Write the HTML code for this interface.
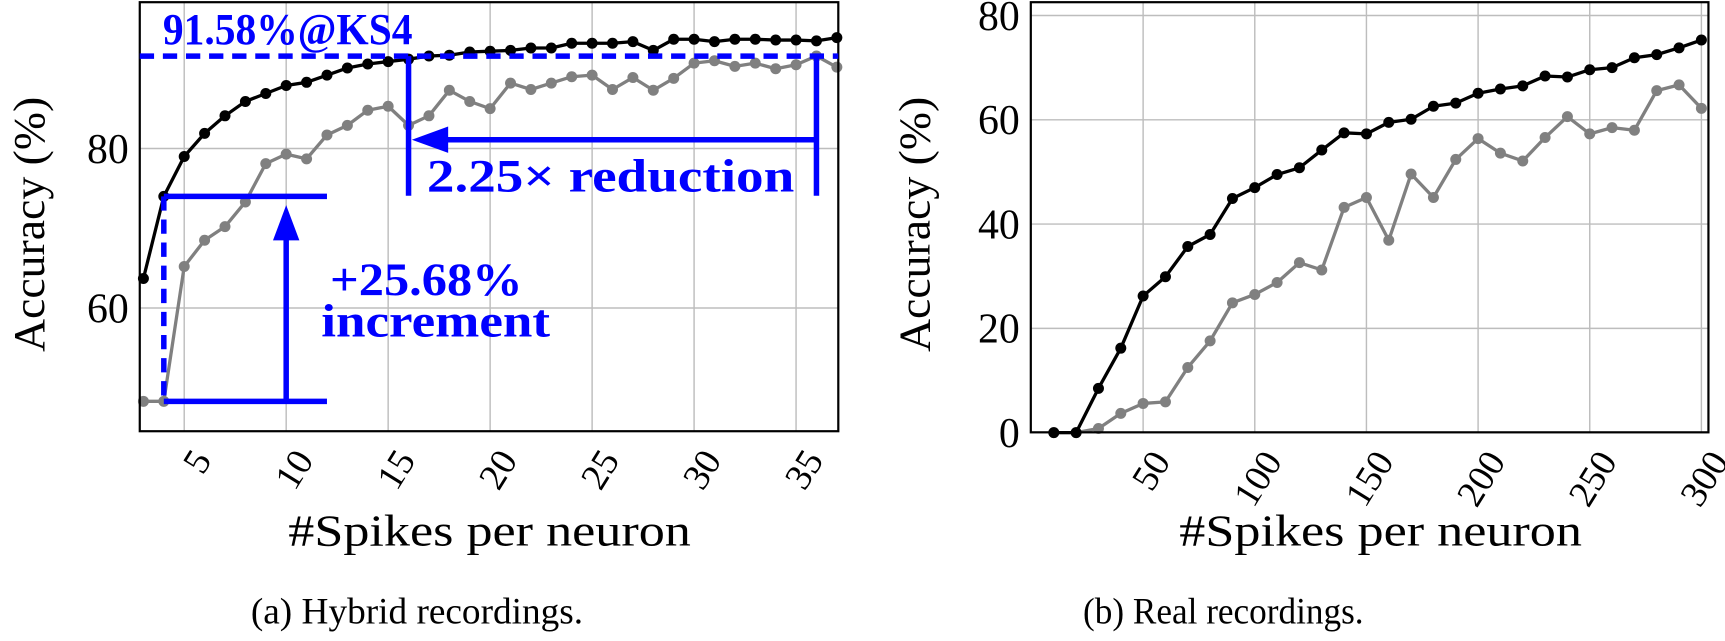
<!DOCTYPE html>
<html><head><meta charset="utf-8"><style>
html,body{margin:0;padding:0;background:#fff;}
svg{display:block;font-family:"Liberation Serif",serif;}
</style></head><body>
<svg id="chart" width="1725" height="641" viewBox="0 0 1568 582.7" xmlns="http://www.w3.org/2000/svg"></svg>
<script>
const hybridX = [3,4,5,6,7,8,9,10,11,12,13,14,15,16,17,18,19,20,21,22,23,24,25,26,27,28,29,30,31,32,33,34,35,36,37];
const hybridProposed = [63.7,74.0,79.0,81.9,84.1,85.9,86.9,87.9,88.3,89.2,90.1,90.6,90.9,91.2,91.6,91.7,92.1,92.2,92.3,92.6,92.6,93.2,93.2,93.2,93.4,92.3,93.7,93.7,93.4,93.7,93.7,93.6,93.6,93.5,93.9];
const hybridBaseline = [48.3,48.3,65.2,68.5,70.2,73.3,78.1,79.3,78.7,81.7,82.9,84.8,85.3,82.9,84.1,87.3,85.9,85.0,88.2,87.4,88.2,89.0,89.2,87.4,88.9,87.3,88.8,90.7,91.0,90.3,90.7,90.0,90.5,91.6,90.2];
const hybridXTicks = [5,10,15,20,25,30,35];
const hybridYTicks = [60,80];
const realX = [10,20,30,40,50,60,70,80,90,100,110,120,130,140,150,160,170,180,190,200,210,220,230,240,250,260,270,280,290,300];
const realProposed = [0,0,8.5,16.2,26.2,29.9,35.7,38.0,44.9,47.0,49.5,50.8,54.2,57.5,57.3,59.5,60.1,62.6,63.2,65.1,65.9,66.5,68.4,68.2,69.6,70.0,71.9,72.5,73.8,75.3];
const realBaseline = [0,0,0.8,3.7,5.6,5.9,12.5,17.6,24.9,26.5,28.8,32.6,31.2,43.2,45.1,36.9,49.6,45.1,52.4,56.4,53.6,52.1,56.6,60.6,57.3,58.5,58.0,65.6,66.7,62.2];
const realXTicks = [50,100,150,200,250,300];
const realYTicks = [0,20,40,60,80];

const NS="http://www.w3.org/2000/svg";
const svg=document.getElementById('chart');
function mk(tag,attrs,parent){const e=document.createElementNS(NS,tag);for(const k in attrs)e.setAttribute(k,attrs[k]);(parent||svg).appendChild(e);return e;}

function panel(cfg){
  const g=mk('g',{});
  
  
  const {L,R,T,B,sx,sy}=cfg;
  cfg.xt.forEach(t=>{const x=sx(t);const l=mk('line',{x1:x,x2:x,y1:T,y2:B,stroke:'#bdbdbd','stroke-width':1.3},g);
    });
  cfg.yt.forEach(t=>{const y=sy(t);const l=mk('line',{x1:L,x2:R,y1:y,y2:y,stroke:'#bdbdbd','stroke-width':1.3},g);
    });
  cfg.xt.forEach(t=>{const x=sx(t);const tx=mk('text',{x:0,y:0,'font-size':34,'text-anchor':'end',transform:`translate(${x+6},${B+14}) rotate(-58)`,'dominant-baseline':'hanging',fill:'#000'},g);
    tx.textContent=t;});
  cfg.yt.forEach(t=>{const y=sy(t);const tx=mk('text',{x:L-10,y:y+13,'font-size':38,'text-anchor':'end',fill:'#000'},g);
    tx.textContent=t;});
  return g;
}
function series(g,xs,ys,sx,sy,color,name){
  const pts=xs.map((x,i)=>sx(x)+','+sy(ys[i])).join(' ');
  const pl=mk('polyline',{points:pts,fill:'none',stroke:color,'stroke-width':3,'stroke-linejoin':'round'},g);
  
  xs.forEach((x,i)=>{const c=mk('circle',{cx:sx(x),cy:sy(ys[i]),r:5,fill:color},g);
    });
}
function frame(g,L,R,T,B){const r=mk('rect',{x:L,y:T,width:R-L,height:B-T,fill:'none',stroke:'#000','stroke-width':2},g);
  }

const aL=127,aR=762,aT=2,aB=392;
const ax=x=>167.4+(x-5)*18.54, ay=v=>135-(v-80)*7.25;
const ga=panel({name:'hybrid-chart',L:aL,R:aR,T:aT,B:aB,sx:ax,sy:ay,xt:hybridXTicks,yt:hybridYTicks});
const clipA=mk('clipPath',{id:'ca'});mk('rect',{x:aL-8,y:aT-8,width:aR-aL+16,height:aB-aT+16},clipA);
const sa=mk('g',{'clip-path':'url(#ca)'},ga);
series(sa,hybridX,hybridBaseline,ax,ay,'#808080','hybrid-baseline');
series(sa,hybridX,hybridProposed,ax,ay,'#000','hybrid-proposed');
frame(ga,aL,aR,aT,aB);
const blue='#0000ff';
function ln(x1,y1,x2,y2,name,extra){const l=mk('line',Object.assign({x1,y1,x2,y2,stroke:blue,'stroke-width':5},extra||{}),ga);
  return l;}
ln(aL,ay(91.58),aR,ay(91.58),'target-dashed-line',{'stroke-dasharray':'13 8'});
ln(ax(4),ay(74),ax(4),ay(48.3),'increment-dashed-line',{'stroke-dasharray':'13 8'});
ln(ax(4),ay(74),ax(12),ay(74),'increment-top-line');
ln(ax(4),ay(48.3),ax(12),ay(48.3),'increment-bottom-line');
ln(ax(10),ay(48.3),ax(10),ay(74)+30,'increment-arrow-shaft');
const ah1=mk('polygon',{points:`${ax(10)},${ay(74)+8} ${ax(10)-12},${ay(74)+40} ${ax(10)+12},${ay(74)+40}`,fill:blue},ga);

ln(ax(16),ay(91.58),ax(16),178,'reduction-left-line');
ln(ax(36),ay(91.58),ax(36),178,'reduction-right-line');
ln(ax(36),127,ax(16)+30,127,'reduction-arrow-shaft');
const ah2=mk('polygon',{points:`${ax(16)+3},127 ${ax(16)+36},115 ${ax(16)+36},139`,fill:blue},ga);

function tt(x,y,s,str,name,w){const t=mk('text',{x,y,'font-size':s,'font-weight':'bold',fill:blue,textLength:w,lengthAdjust:'spacingAndGlyphs'},ga);
  t.textContent=str;}
tt(148,40,40,'91.58%@KS4','target-accuracy-label',227);
tt(388,174,42,'2.25× reduction','reduction-label',334);
tt(300,268,42,'+25.68%','increment-value-label',175);
tt(292,306,42,'increment','increment-label',208);
function lab(x,y,s,str,name,w,rot){const t=mk('text',{x,y,'font-size':s,fill:'#000','text-anchor':'middle',textLength:w,lengthAdjust:'spacingAndGlyphs'},svg);
  if(rot)t.setAttribute('transform',`rotate(-90 ${x} ${y})`);t.textContent=str;}
lab(40,204,40,'Accuracy (%)','hybrid-y-axis-title',232,true);
lab(445,496,40,'#Spikes per neuron','hybrid-x-axis-title',366);
lab(379,567,34,'(a) Hybrid recordings.','hybrid-caption',302);

const bL=937,bR=1553,bT=2,bB=393;
const bx=x=>1039.1+(x-50)*2.03, by=v=>393.3-v*4.74;
const gb=panel({name:'real-chart',L:bL,R:bR,T:bT,B:bB,sx:bx,sy:by,xt:realXTicks,yt:realYTicks});
series(gb,realX,realBaseline,bx,by,'#808080','real-baseline');
series(gb,realX,realProposed,bx,by,'#000','real-proposed');
frame(gb,bL,bR,bT,bB);
lab(845,204,40,'Accuracy (%)','real-y-axis-title',232,true);
lab(1255,496,40,'#Spikes per neuron','real-x-axis-title',366);
lab(1112,567,34,'(b) Real recordings.','real-caption',255);
</script>
</body></html>
